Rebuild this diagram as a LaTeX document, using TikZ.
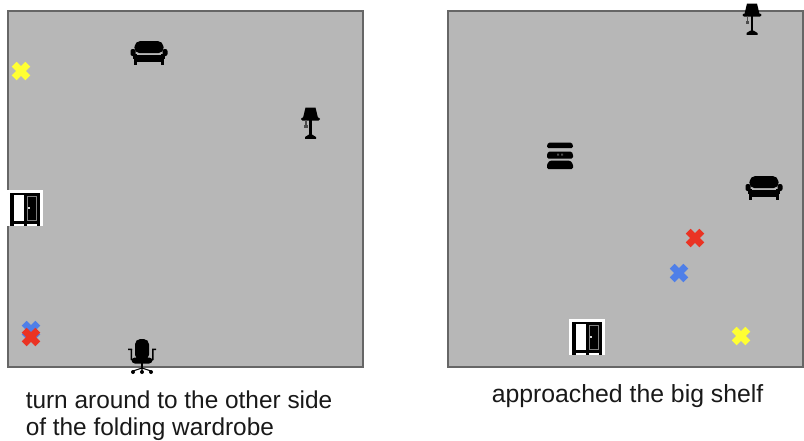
\documentclass[tikz,border=0pt]{standalone}
\usepackage{fontspec}
\setmainfont{Liberation Sans}
\definecolor{roomfill}{HTML}{B7B7B7}
\definecolor{roomline}{HTML}{666666}
\definecolor{xred}{HTML}{EA3323}
\definecolor{xblue}{HTML}{4F7FE8}
\definecolor{xyellow}{HTML}{FFFF33}
\tikzset{
  x=0.75pt,y=-0.75pt,
  room/.style={fill=roomfill,draw=roomline,line width=1.2pt},
  caption/.style={anchor=base west,inner sep=0pt,font=\fontsize{18.6pt}{22pt}\selectfont,text=black!90},
  captionleft/.style={caption,font=\fontsize{18.3pt}{22pt}\selectfont},
  pics/cross/.style={code={
    \draw[#1,line width=5.2pt] (-6.8,-6.8)--(6.8,6.8) (-6.8,6.8)--(6.8,-6.8);
  }},
  pics/sofa/.style={code={
    \fill[black,rounded corners=4pt] (-14,-12) -- (14,-12) -- (15,0) -- (-15,0) -- cycle;
    \fill[black] (-14,2) rectangle (14,8.5);
    \fill[black,rounded corners=1.5pt] (-18.5,-4) rectangle (-13.5,3);
    \fill[black,rounded corners=1.5pt] (13.5,-4) rectangle (18.5,3);
    \fill[black] (-16,1) rectangle (-12,6);
    \fill[black] (12,1) rectangle (16,6);
    \fill[black] (-15,6) rectangle (-12,11.5);
    \fill[black] (12,6) rectangle (15,11.5);
  }},
  pics/lamp/.style={code={
    \fill[black] (-5,-15.5) -- (5,-15.5) -- (7.5,-5) -- (-7.5,-5) -- cycle;
    \fill[black,rounded corners=1pt] (-9.5,-5.5) rectangle (9.5,-2.5);
    \fill[black] (-1.1,-3) rectangle (1.1,14);
    \fill[black!70] (-5.5,-3) rectangle (-3.8,3);
    \fill[black!70] (-6.5,2) rectangle (-3,4.5);
    \fill[black] (-1.5,11.5) -- (1.5,11.5) -- (5.5,14) -- (5.5,15.8) -- (-5.5,15.8) -- (-5.5,14) -- cycle;
  }},
  pics/wardrobe/.style={code={
    \fill[white] (-18.5,-18) rectangle (18,18);
    \fill[black] (-15,-15.5) rectangle (15,-13);
    \fill[black] (-15,13) rectangle (15,16);
    \fill[black] (-15,-15.5) rectangle (-11.5,18);
    \fill[black] (11.5,-15.5) rectangle (15,18);
    \fill[black] (-1.5,-15.5) rectangle (1.5,18);
    \fill[black] (1,-13) rectangle (12,14);
    \draw[black!50,line width=0.6pt] (2,-11.5) rectangle (11,12);
    \fill[white!85!black] (2.5,-1.5) rectangle (4.7,0.7);
  }},
  pics/chair/.style={code={
    \fill[black,rounded corners=4pt] (-7,-18) rectangle (7,3);
    \fill[black,rounded corners=2.5pt] (-10.5,0.5) rectangle (10.5,6.5);
    \fill[black] (-1.2,6) rectangle (1.2,12);
    \fill[black] (-11.5,-8) rectangle (-10,3) (10,-8) rectangle (11.5,3);
    \fill[black] (-14,-8.5) rectangle (-10,-7) (10,-8.5) rectangle (14,-7);
    \draw[black,line width=0.8pt] (0,11) -- (-9,14) (0,11) -- (9,14) (0,11) -- (0,15);
    \fill[black] (-9,15) circle (2) (9,15) circle (2) (0,15) circle (2);
  }},
  pics/shelf/.style={code={
    \fill[black,rounded corners=1pt] (-11.5,-13) -- (11.5,-13) -- (13,-10.5) -- (13,-7.5) -- (-13,-7.5) -- (-13,-10.5) -- cycle;
    \fill[black,rounded corners=1pt] (-11.5,-4) -- (11.5,-4) -- (13,-1.5) -- (13,3) -- (-13,3) -- (-13,-1.5) -- cycle;
    \fill[black,rounded corners=1pt] (-10,5) -- (10,5) -- (13,8.5) -- (13,13.5) -- (-13,13.5) -- (-13,8.5) -- cycle;
    \fill[black!70] (-3,-2) rectangle (-1,0) (1,-2) rectangle (3,0);
  }}
}
\begin{document}
\begin{tikzpicture}
\useasboundingbox (0,0) rectangle (804,440);
\fill[white] (0,0) rectangle (804,440);
\draw[room] (8,11) rectangle (363,367);
\draw[room] (448,11) rectangle (803,367);
% left room
\pic at (149,53) {sofa};
\pic at (310.5,123) {lamp};
\pic at (25,208) {wardrobe};
\fill[white] (125,368) rectangle (160,376);
\pic at (142,357) {chair};
\pic at (31,330) {cross=xblue};
\pic at (31,337) {cross=xred};
\pic at (21,71) {cross=xyellow};
% right room
\pic at (752,19) {lamp};
\pic at (764,188) {sofa};
\pic at (560,155.5) {shelf};
\pic at (587,337) {wardrobe};
\pic at (695,238) {cross=xred};
\pic at (679,273) {cross=xblue};
\pic at (741,336) {cross=xyellow};
% captions
\node[captionleft] (capa) at (25.5,408) {turn around to the other side};
\node[captionleft] (capb) at (25.5,435) {of the folding wardrobe};
\node[caption] (capc) at (491.5,402.5) {approached the big shelf};
\end{tikzpicture}
\end{document}
